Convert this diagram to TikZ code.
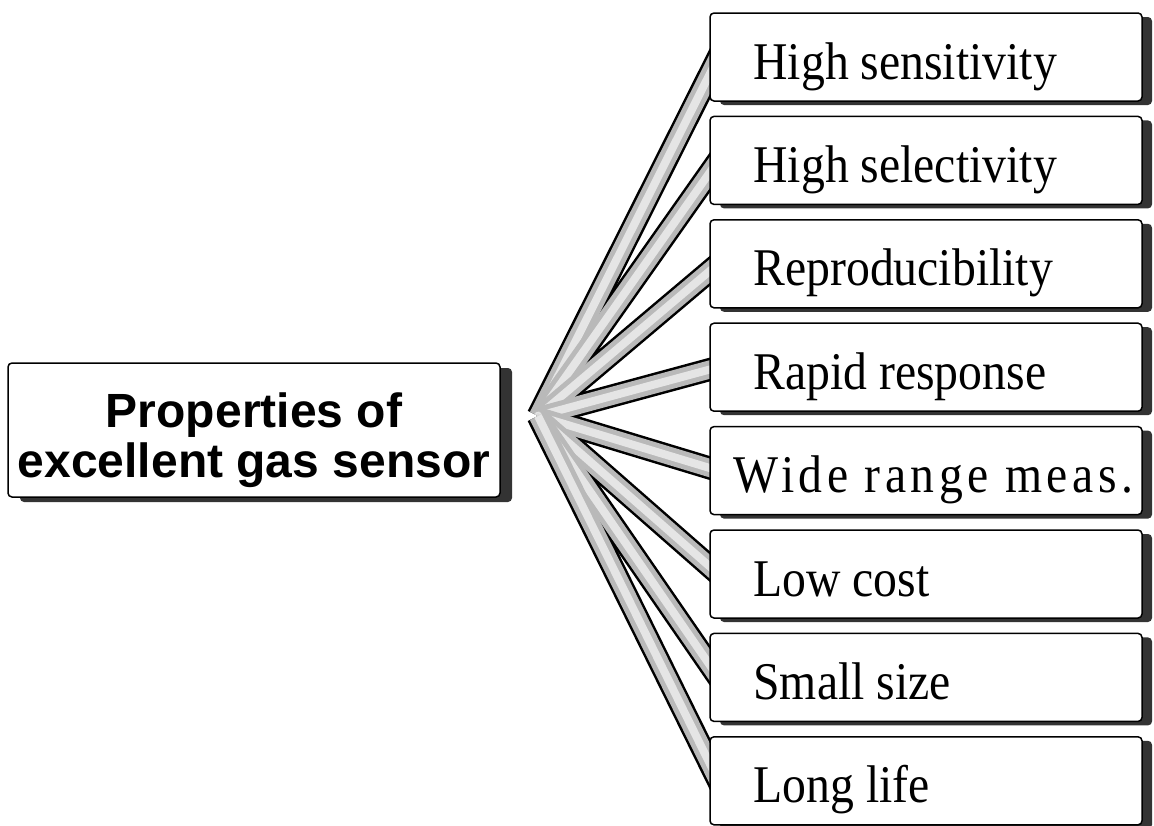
\documentclass[tikz,border=0pt]{standalone}
\usepackage{fontspec}
\setmainfont{Liberation Serif}
\newfontfamily\propfont[FakeStretch=0.9]{Liberation Serif}
\newfontfamily\srcfont{Liberation Sans}
\usetikzlibrary{calc,shadows,backgrounds}
\tikzset{
	propbox/.style={draw,line width=1.5pt,rounded corners=4pt,fill=white,inner sep=0pt,
		minimum width=432pt,minimum height=88pt,
		drop shadow={shadow xshift=10pt,shadow yshift=-4pt,fill=black!80,opacity=1}},
	srcbox/.style={draw,line width=1.5pt,rounded corners=4pt,fill=white,inner sep=0pt,
		minimum width=492pt,minimum height=134pt,
		drop shadow={shadow xshift=12pt,shadow yshift=-5pt,fill=black!80,opacity=1}},
	proptext/.style={anchor=base west,inner sep=0pt,font=\propfont\fontsize{53}{55}\selectfont},
	srctext/.style={align=center,inner sep=0pt,font=\srcfont\bfseries\fontsize{48}{50}\selectfont},
	bandedge/.style={line width=23pt,black},
	bandfill/.style={line width=18pt,gray!55},
	bandmid/.style={line width=8pt,gray!20}
}
\begin{document}
\begin{tikzpicture}[x=1pt,y=-1pt]
		\clip (0,0) rectangle (1154,825);
		%Source box
			\node[srcbox] (src) at (254,430) {};
			\node[srctext] (srctext) at ([yshift=-10pt]src.center) {Properties of\\excellent gas sensor};
		%Hub
			\coordinate (hub) at (538,416);
		%Property boxes
			\foreach \txt [count=\i] in {High sensitivity,High selectivity,Reproducibility,Rapid response,,Low cost,Small size,Long life}
			{
				\node[propbox] (b\i) at (926,{57+103.4*(\i-1)}) {};
				\node[proptext] (t\i) at ([xshift=44pt,yshift=-22pt]b\i.west) {\txt};
			}
			\node[proptext] (t5) at ([xshift=24pt,yshift=-22pt]b5.west) {\addfontfeature{LetterSpace=8.5}Wide range meas.};
		%Bands
			\begin{pgfonlayer}{background}
			\foreach \i in {1,...,8}
			{
				\pgfmathsetmacro\bandoff{-0.05*(57+103.4*(\i-1)-416)}
				\coordinate (a\i) at ($(b\i.west)+(0,\bandoff)$);
				\draw[bandedge] (hub) -- ($(hub)!1.12!(a\i)$);
			}
			\foreach \i in {1,...,8}
			{
				\draw[bandfill] (hub) -- ($(hub)!1.12!(a\i)$);
				\draw[bandmid] (hub) -- ($(hub)!1.12!(a\i)$);
			}
			\end{pgfonlayer}
\end{tikzpicture}
\end{document}
